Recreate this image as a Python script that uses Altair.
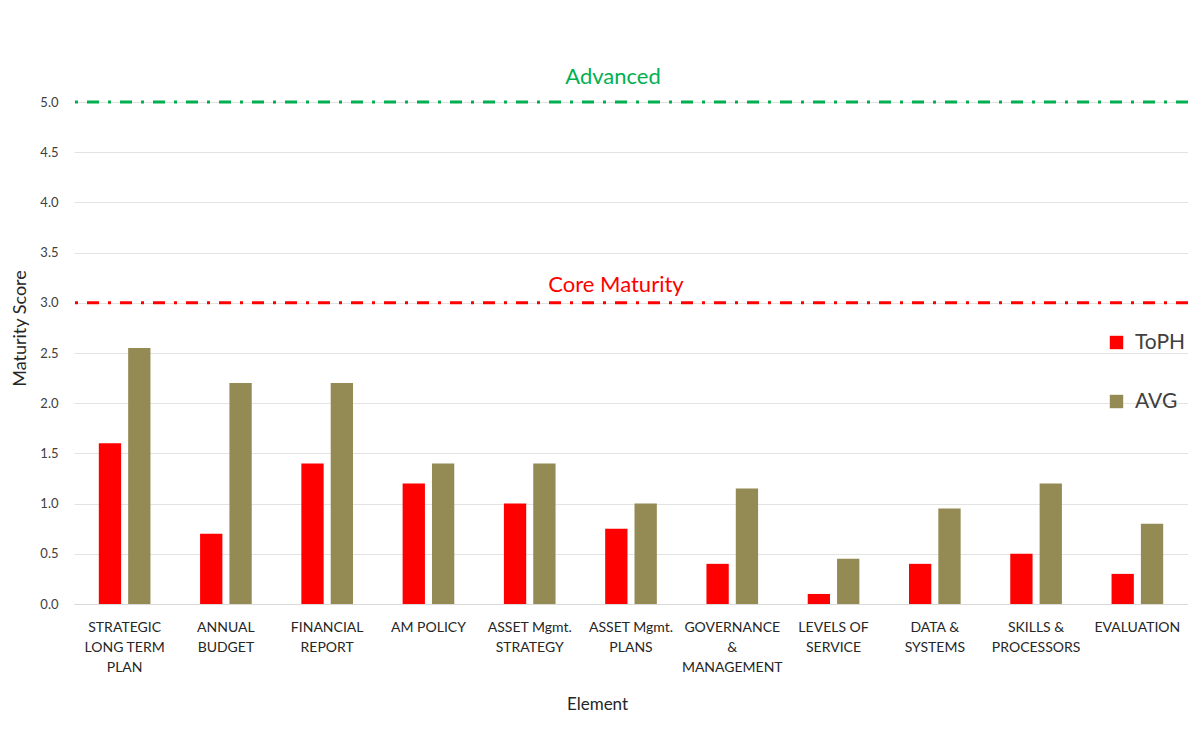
import altair as alt
import pandas as pd

categories = [
    "STRATEGIC|LONG TERM|PLAN", "ANNUAL|BUDGET", "FINANCIAL|REPORT", "AM POLICY",
    "ASSET Mgmt.|STRATEGY", "ASSET Mgmt.|PLANS", "GOVERNANCE|&|MANAGEMENT",
    "LEVELS OF|SERVICE", "DATA &|SYSTEMS", "SKILLS &|PROCESSORS", "EVALUATION",
]
toph = [1.6, 0.7, 1.4, 1.2, 1.0, 0.75, 0.4, 0.1, 0.4, 0.5, 0.3]
avg = [2.55, 2.2, 2.2, 1.4, 1.4, 1.0, 1.15, 0.45, 0.95, 1.2, 0.8]
series = ["ToPH", "AVG"]
series_colors = ["#FF0000", "#948A54"]

ref_labels = ["Advanced", "Core Maturity"]
ref_values = [5.0, 3.0]
ref_colors = ["#00B050", "#FF0000"]

rows = []
for c, a, b in zip(categories, toph, avg):
    rows.append({"Element": c, "Series": "ToPH", "Score": a})
    rows.append({"Element": c, "Series": "AVG", "Score": b})
df = pd.DataFrame(rows)

FONT = "Lato"

y_scale = alt.Scale(domain=[0, 5])

bars = alt.Chart(df).mark_bar().encode(
    x=alt.X("Element:N", sort=categories,
            scale=alt.Scale(paddingInner=0.49, paddingOuter=0.245),
            axis=alt.Axis(title="Element", labelAngle=0,
                          labelExpr="split(datum.label, '|')",
                          labelFontSize=14, labelColor="#262626", labelFont=FONT,
                          labelLineHeight=20, labelPadding=16, labelLimit=200,
                          ticks=False, domain=True, domainColor="#D9D9D9",
                          titleFontSize=17, titleFont=FONT, titleFontWeight="normal",
                          titleColor="#262626", titlePadding=22,
                          titleX=523, titleAlign="center")),
    xOffset=alt.XOffset("Series:N", sort=series,
                        scale=alt.Scale(paddingInner=0.24, paddingOuter=0)),
    y=alt.Y("Score:Q", scale=y_scale,
            axis=alt.Axis(title="Maturity Score", values=[0, 0.5, 1, 1.5, 2, 2.5, 3, 3.5, 4, 4.5, 5],
                          format=".1f", labelFontSize=13, labelColor="#404040",
                          labelFont=FONT, labelPadding=16, ticks=False, domain=False,
                          grid=True, gridColor="#E3E3E3",
                          titleFontSize=18, titleFont=FONT, titleFontWeight="normal",
                          titleColor="#262626", titlePadding=10, titleY=226)),
    color=alt.Color("Series:N", sort=series,
                    scale=alt.Scale(domain=series, range=series_colors),
                    legend=alt.Legend(title=None, orient="none", legendX=1032, legendY=230,
                                      symbolType="square", symbolSize=180,
                                      labelFontSize=21, labelFont=FONT, labelColor="#404040",
                                      rowPadding=37, symbolStrokeWidth=0, labelOffset=8)),
)

ref_df = pd.DataFrame({"label": ref_labels, "value": ref_values, "color": ref_colors})

rules = alt.Chart(ref_df).mark_rule(strokeWidth=3, strokeDash=[12, 9, 3, 9]).encode(
    y=alt.Y("value:Q", scale=y_scale),
    color=alt.Color("color:N", scale=None),
)

text_adv = alt.Chart(ref_df).transform_filter(alt.datum.label == "Advanced").mark_text(
    fontSize=22, font=FONT, dy=-25, baseline="middle").encode(
    x=alt.value(539),
    y=alt.Y("value:Q", scale=y_scale),
    text="label:N",
    color=alt.Color("color:N", scale=None),
)

text_core = alt.Chart(ref_df).transform_filter(alt.datum.label == "Core Maturity").mark_text(
    fontSize=22, font=FONT, dy=-18, baseline="middle").encode(
    x=alt.value(542),
    y=alt.Y("value:Q", scale=y_scale),
    text="label:N",
    color=alt.Color("color:N", scale=None),
)

chart = alt.layer(bars, rules, text_adv, text_core).properties(
    width=1114, height=502,
    autosize=alt.AutoSizeParams(type="none"),
    padding={"left": 66, "top": 94, "right": 0, "bottom": 110},
    background="white",
).configure_view(stroke=None)

chart.save("out.html", embed_options={"renderer": "svg", "actions": False})
